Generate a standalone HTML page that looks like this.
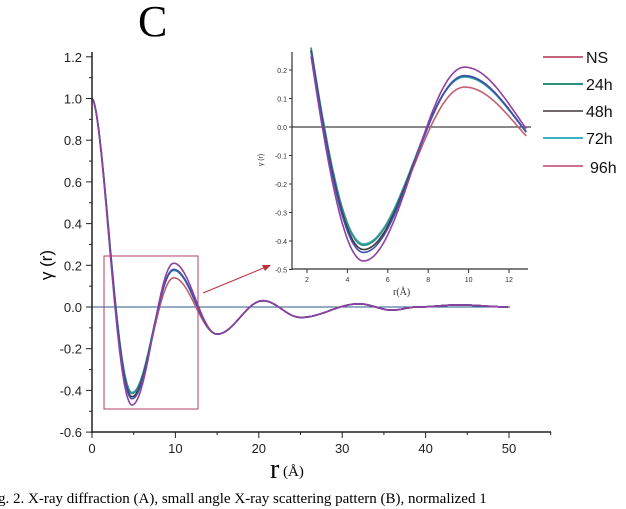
<!DOCTYPE html>
<html><head><meta charset="utf-8"><style>
body{margin:0;background:#fff;width:626px;height:509px;overflow:hidden}
svg{display:block}
</style></head><body>
<svg id="s" width="626" height="509" xmlns="http://www.w3.org/2000/svg" font-family="Liberation Sans, sans-serif">
<text x="138" y="36" font-family="Liberation Serif, serif" font-size="44">C</text>
<g id="main"></g>
<g id="inset"></g>
<rect x="104" y="256" width="94" height="153" fill="none" stroke="#b04060" stroke-width="1"/>
<line x1="203" y1="293" x2="266" y2="267" stroke="#c03040" stroke-width="1"/>
<polygon points="271,265 262,265 265,271" fill="#c03040"/>
<g font-size="16" fill="#111">
<line x1="543" y1="57" x2="583" y2="57" stroke="#b03050" stroke-width="1.5"/><text x="586" y="63">NS</text>
<line x1="543" y1="84" x2="583" y2="84" stroke="#2a9080" stroke-width="2"/><text x="586" y="90">24h</text>
<line x1="543" y1="111" x2="583" y2="111" stroke="#403838" stroke-width="1.5"/><text x="586" y="117">48h</text>
<line x1="543" y1="138" x2="583" y2="138" stroke="#40b0c0" stroke-width="2"/><text x="586" y="144">72h</text>
<line x1="543" y1="166" x2="583" y2="166" stroke="#c04070" stroke-width="1.5"/><text x="590" y="173">96h</text>
</g>
<text x="270" y="478" font-family="Liberation Serif, serif" font-size="28">r</text>
<text x="283" y="476" font-family="Liberation Serif, serif" font-size="15">(Å)</text>
<text transform="translate(52,265) rotate(-90)" text-anchor="middle" font-size="17">γ (r)</text>
<text x="-2" y="503" font-family="Liberation Serif, serif" font-size="15">g. 2. X-ray diffraction (A), small angle X-ray scattering pattern (B), normalized 1</text>
</svg>
<script>
var NS='http://www.w3.org/2000/svg';
function el(p,t,a,txt){var e=document.createElementNS(NS,t);for(var k in a)e.setAttribute(k,a[k]);if(txt!=null)e.textContent=txt;p.appendChild(e);return e;}
var series=[
 {c:'#c06070',m:-0.41,M:0.14},
 {c:'#40b0c0',m:-0.41,M:0.175},
 {c:'#2a9080',m:-0.415,M:0.178},
 {c:'#403838',m:-0.43,M:0.18},
 {c:'#4050b0',m:-0.44,M:0.18},
 {c:'#9040a0',m:-0.47,M:0.21}
];
function f(r,s){
 var k=[[0,1],[4.8,s.m],[9.8,s.M],[15,-0.13],[20.5,0.03],[25,-0.05],[32,0.015],[36,-0.015],[39,0.0],[44,0.01],[50,0]];
 if(r<=0)return 1;
 for(var i=0;i<k.length-1;i++){if(r<=k[i+1][0]){var a=k[i],b=k[i+1];var t=(r-a[0])/(b[0]-a[0]);
  if(i==0){t=Math.pow(t,0.87);}
  return a[1]+(b[1]-a[1])*(1-Math.cos(Math.PI*t))/2;}}
 return 0;
}
var g=document.getElementById('main');
var X=function(r){return 92+r*8.34},Y=function(v){return 307-v*208.5};
el(g,'line',{x1:92,y1:307,x2:510,y2:307,stroke:'#2a5a8a','stroke-width':1});
series.forEach(function(s){var d='';for(var r=0;r<=50;r+=0.1)d+=(d?'L':'M')+X(r).toFixed(1)+' '+Y(f(r,s)).toFixed(1);
 el(g,'path',{d:d,fill:'none',stroke:s.c,'stroke-width':1.6});});
el(g,'line',{x1:92,y1:52,x2:92,y2:433,stroke:'#222','stroke-width':1.5});
el(g,'line',{x1:91,y1:432,x2:551,y2:432,stroke:'#222','stroke-width':1.5});
for(var v=-0.6;v<=1.21;v+=0.1){var y=Y(v);var maj=Math.round(v*10)%2==0;
 el(g,'line',{x1:maj?86:89,y1:y,x2:92,y2:y,stroke:'#222'});
 if(maj)el(g,'text',{x:82,y:y+5,'text-anchor':'end','font-size':13,fill:'#222'},(Math.abs(v)<1e-6?0:v).toFixed(1));}
for(var r=0;r<=55;r+=5){var x=X(r);el(g,'line',{x1:x,y1:432,x2:x,y2:r%10==0?438:435,stroke:'#222'});
 if(r%10==0)el(g,'text',{x:x,y:453,'text-anchor':'middle','font-size':13,fill:'#222'},r);}
var h=document.getElementById('inset');
var x2=function(r){return 307+(r-2)*20.2},y2=function(v){return 127-v*285};
el(h,'rect',{x:272,y:45,width:256,height:224,fill:'#fff'});
el(h,'line',{x1:292,y1:127,x2:531,y2:127,stroke:'#111','stroke-width':1});
series.forEach(function(s){var d='';for(var r=2.2;r<=12.9;r+=0.05)d+=(d?'L':'M')+x2(r).toFixed(1)+' '+y2(f(r,s)).toFixed(1);
 el(h,'path',{d:d,fill:'none',stroke:s.c,'stroke-width':1.6});});
el(h,'line',{x1:292,y1:52,x2:292,y2:270,stroke:'#333','stroke-width':1.2});
el(h,'line',{x1:292,y1:269,x2:528,y2:269,stroke:'#333','stroke-width':1.2});
for(var v=-0.5;v<=0.21;v+=0.1){var y=y2(v);el(h,'line',{x1:289,y1:y,x2:292,y2:y,stroke:'#333'});
 el(h,'text',{x:287,y:y+3,'text-anchor':'end','font-size':7,fill:'#333'},(Math.abs(v)<1e-6?0:v).toFixed(1));}
for(var r=2;r<=12;r+=2){var x=x2(r);el(h,'line',{x1:x,y1:269,x2:x,y2:273,stroke:'#333'});
 el(h,'text',{x:x,y:282,'text-anchor':'middle','font-size':7,fill:'#333'},r);}
el(h,'text',{x:393,y:295,'font-size':10,'font-family':'Liberation Serif, serif',fill:'#333'},'r(Å)');
el(h,'text',{transform:'translate(263,160) rotate(-90)','text-anchor':'middle','font-size':7,fill:'#333'},'γ (r)');
</script>
</body></html>
